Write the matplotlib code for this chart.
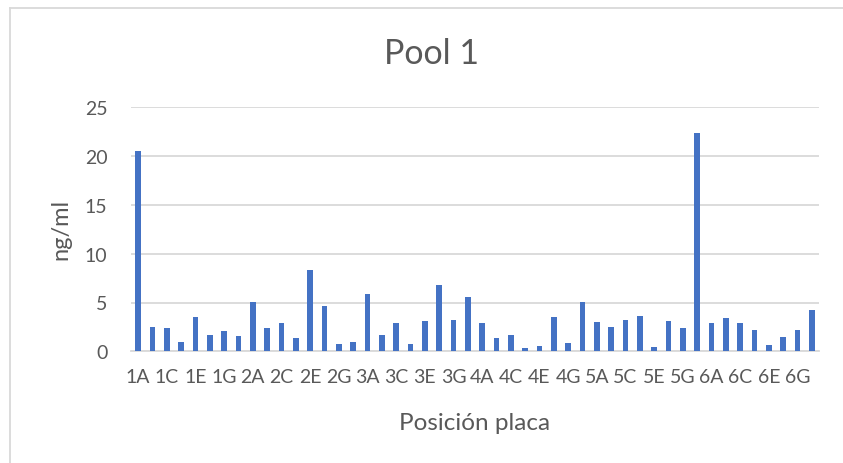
import matplotlib.pyplot as plt
from matplotlib.lines import Line2D

# plate positions 1A..6H
positions = [f'{r}{c}' for r in range(1, 7) for c in 'ABCDEFGH']
values = [
    20.56, 2.46, 2.36, 0.96, 3.48, 1.71, 2.05, 1.54,
    5.05, 2.36, 2.87, 1.37, 8.37, 4.61, 0.72, 0.99,
    5.87, 1.71, 2.94, 0.72, 3.14, 6.76, 3.18, 5.53,
    2.94, 1.37, 1.71, 0.31, 0.51, 3.52, 0.82, 5.02,
    3.00, 2.49, 3.21, 3.59, 0.44, 3.11, 2.36, 22.40,
    2.90, 3.42, 2.87, 2.22, 0.68, 1.50, 2.15, 4.23,
]
yticks = [0, 5, 10, 15, 20, 25]

txt = '#595959'
plt.rcParams['font.family'] = ['Lato', 'DejaVu Sans']

fig = plt.figure(figsize=(8.43, 4.64), dpi=100)
ax = fig.add_axes([131 / 843, 1 - 352.3 / 464, 688 / 843, 244 / 464])

x = range(len(positions))
ax.bar(x, values, width=0.4, color='#4472C4', zorder=3)

ax.set_xlim(-0.5, len(positions) - 0.5)
ax.set_ylim(0, 25)
ax.set_yticks(yticks)
ax.set_xticks(list(x)[::2])
ax.set_xticklabels(positions[::2])
ax.tick_params(axis='both', length=0, labelsize=14, colors=txt)
ax.tick_params(axis='x', pad=12)
ax.tick_params(axis='y', pad=17)
ax.grid(axis='y', color='#D9D9D9', linewidth=1.3, zorder=0)
for s in ['top', 'right', 'left']:
    ax.spines[s].set_visible(False)
ax.spines['bottom'].set_color('#D9D9D9')
ax.spines['bottom'].set_linewidth(1.3)

fig.text(475 / 843, 1 - 424 / 464, 'Posición placa', fontsize=17.5,
         color=txt, ha='center', va='center')
fig.text(61 / 843, 1 - 229 / 464, 'ng/ml', fontsize=17, color=txt,
         ha='center', va='center', rotation=90)
fig.text(432 / 843, 1 - 54 / 464, 'Pool 1', fontsize=24.5, color=txt,
         ha='center', va='center')

# chart frame (left and top edges visible)
fig.add_artist(Line2D([10 / 843, 10 / 843], [0, 1 - 9 / 464],
                      transform=fig.transFigure, color='#D9D9D9', lw=1.3))
fig.add_artist(Line2D([10 / 843, 1], [1 - 9 / 464, 1 - 9 / 464],
                      transform=fig.transFigure, color='#D9D9D9', lw=1.3))

fig.savefig('out.png', dpi=100)
